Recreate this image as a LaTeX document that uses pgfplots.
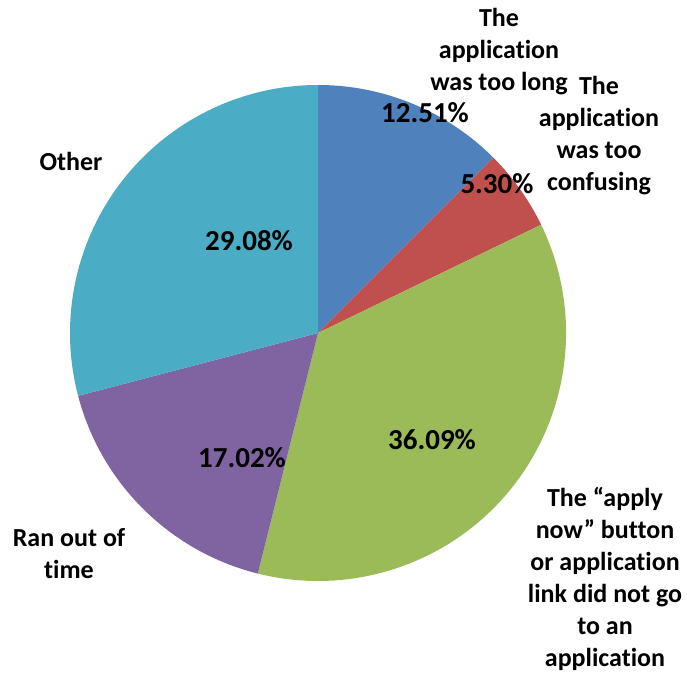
\documentclass[border=0pt]{standalone}
\usepackage{pgfplots}
\usepackage{pgfplotstable}
\pgfplotsset{compat=1.18}
\usepackage{fontspec}
\setmainfont[Ligatures=NoCommon]{Carlito}
\definecolor{sA}{HTML}{4F81BD}
\definecolor{sB}{HTML}{C0504D}
\definecolor{sC}{HTML}{9BBB59}
\definecolor{sD}{HTML}{8064A2}
\definecolor{sE}{HTML}{4BACC6}
\pgfplotstableread{
idx pct
0 12.51
1 5.30
2 36.09
3 17.02
4 29.08
}\piedata
\pgfplotstablegetelem{0}{pct}\of\piedata \let\pA\pgfplotsretval
\pgfplotstablegetelem{1}{pct}\of\piedata \let\pB\pgfplotsretval
\pgfplotstablegetelem{2}{pct}\of\piedata \let\pC\pgfplotsretval
\pgfplotstablegetelem{3}{pct}\of\piedata \let\pD\pgfplotsretval
\pgfplotstablegetelem{4}{pct}\of\piedata \let\pE\pgfplotsretval
\pgfmathsetmacro\aA{90}
\pgfmathsetmacro\aB{\aA-3.6*\pA}
\pgfmathsetmacro\aC{\aB-3.6*\pB}
\pgfmathsetmacro\aD{\aC-3.6*\pC}
\pgfmathsetmacro\aE{\aD-3.6*\pD}
\pgfmathsetmacro\aF{\aE-3.6*\pE}
\newcommand\slice[3]{\fill[#1] (axis cs:318,339) -- ++(#2:248pt) arc[start angle=#2, end angle=#3, radius=248pt] -- cycle;}
\begin{document}
\begin{tikzpicture}
\begin{axis}[width=687pt,height=672pt,scale only axis,
  xmin=0,xmax=687,ymin=0,ymax=672,hide axis,clip=false]
\path (axis cs:0,0) rectangle (axis cs:687,672);
\slice{sA}{\aA}{\aB}
\slice{sB}{\aB}{\aC}
\slice{sC}{\aC}{\aD}
\slice{sD}{\aD}{\aE}
\slice{sE}{\aE}{\aF}
\begin{scope}[every node/.style={font=\fontsize{29}{32}\selectfont\bfseries,inner sep=0pt}]
\node at (axis cs:425,559) {12.51\%};
\node at (axis cs:497,488) {5.30\%};
\node at (axis cs:432,232) {36.09\%};
\node at (axis cs:242,214) {17.02\%};
\node at (axis cs:249,431) {29.08\%};
\end{scope}
\begin{scope}[every node/.style={font=\fontsize{26}{32}\selectfont\bfseries,align=center,inner sep=0pt}]
\node at (axis cs:499,620) {The\\application\\was too long};
\node at (axis cs:599,536) {The\\application\\was too\\confusing};
\node at (axis cs:605,93) {The “apply\\now” button\\or application\\link did not go\\to an\\application};
\node at (axis cs:69,118) {Ran out of\\time};
\node at (axis cs:71,511) {Other};
\end{scope}
\end{axis}
\end{tikzpicture}
\end{document}
